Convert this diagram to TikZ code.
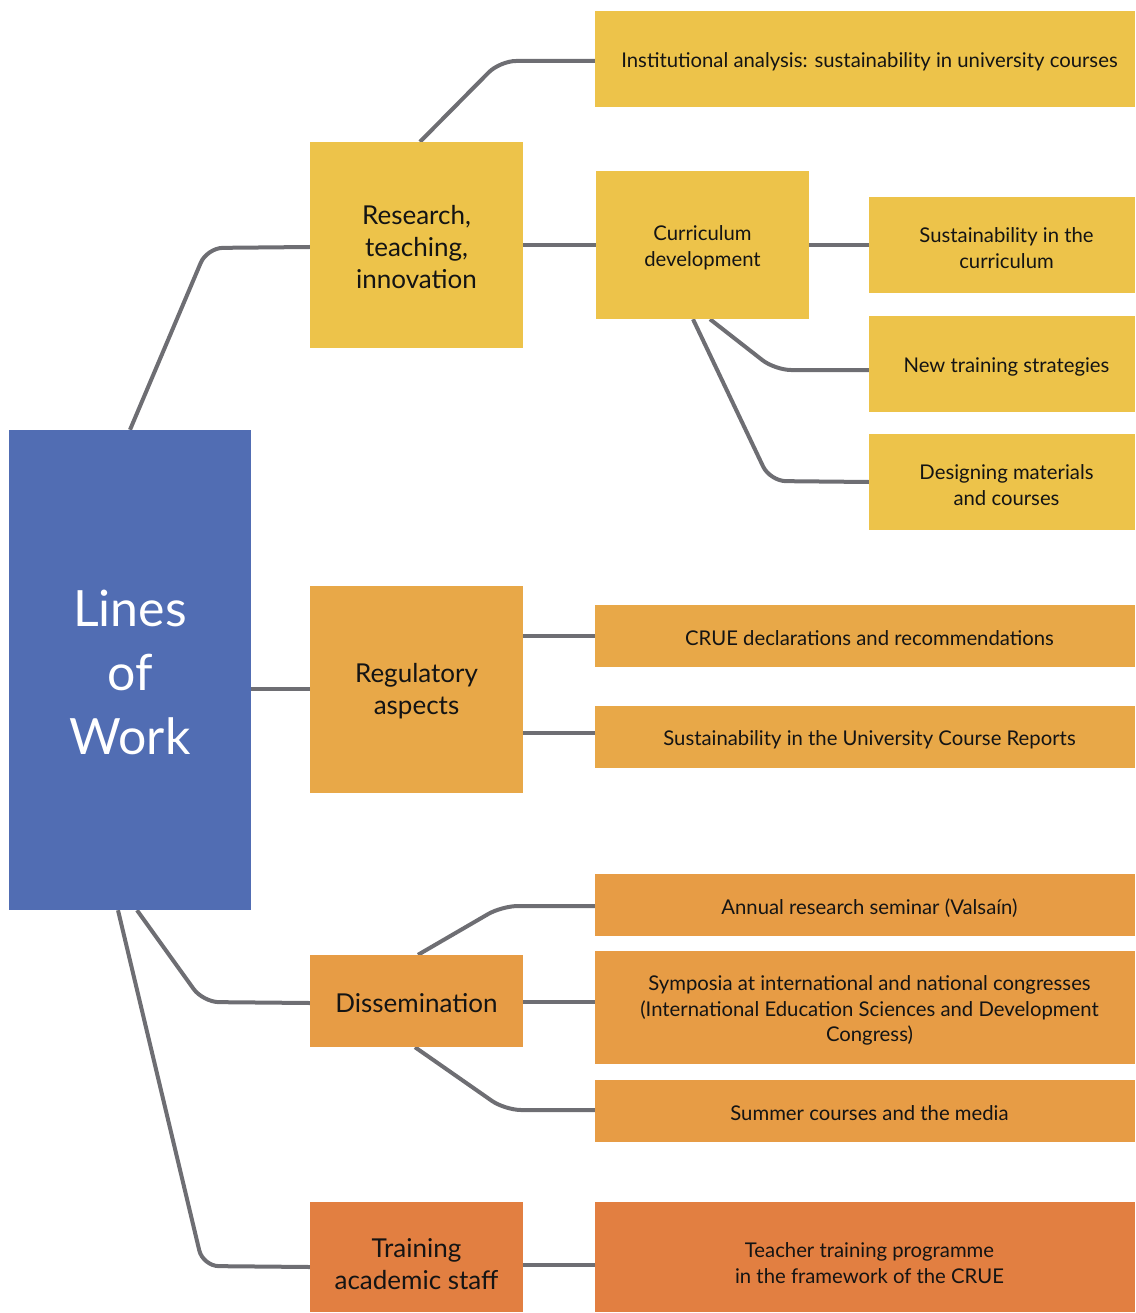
\documentclass[tikz,border=0pt]{standalone}
\usepackage{fontspec}
\setmainfont{Lato}
\usetikzlibrary{backgrounds}
\definecolor{cblue}{HTML}{516DB3}
\definecolor{cyel}{HTML}{EDC34A}
\definecolor{cora}{HTML}{E8A848}
\definecolor{cdis}{HTML}{E79C45}
\definecolor{ctra}{HTML}{E27F41}
\definecolor{cline}{HTML}{6E6E73}
\tikzset{
  box/.style={draw=none, inner sep=0pt},
  midtxt/.style={align=center, inner sep=0pt, text=black!92, font=\fontsize{26}{32}\selectfont, yshift=-2pt},
  leaftxt/.style={align=center, inner sep=0pt, text=black!92, font=\fontsize{20.3}{25.5}\selectfont, yshift=-3pt},
  edgetxt/.style={leaftxt, xshift=4.5pt},
  conn/.style={draw=cline, line width=4pt, rounded corners=16pt},
}
\begin{document}
\begin{tikzpicture}[x=1pt,y=-1pt]
\useasboundingbox (0,0) rectangle (1135,1313);
% root
\node[box, fill=cblue, minimum width=242pt, minimum height=480pt,
      label={[align=center, inner sep=0pt, text=white, font=\fontsize{50}{64}\selectfont, yshift=-2.5pt]center:{Lines\\of\\Work}}] (root) at (130,670) {};
% research branch
\node[box, fill=cyel, minimum width=213pt, minimum height=206pt,
      label={[midtxt]center:{Research,\\teaching,\\innovation}}] (res) at (416.5,245) {};
\node[box, fill=cyel, minimum width=540pt, minimum height=96pt,
      label={[edgetxt]center:{Institutional analysis: sustainability in university courses}}] (inst) at (865,59) {};
\node[box, fill=cyel, minimum width=213pt, minimum height=148pt,
      label={[leaftxt]center:{Curriculum\\development}}] (cur) at (702.5,245) {};
\node[box, fill=cyel, minimum width=266pt, minimum height=96pt,
      label={[edgetxt]center:{Sustainability in the\\curriculum}}] (sus) at (1002,245) {};
\node[box, fill=cyel, minimum width=266pt, minimum height=96pt,
      label={[edgetxt]center:{New training strategies}}] (new) at (1002,364) {};
\node[box, fill=cyel, minimum width=266pt, minimum height=96pt,
      label={[edgetxt]center:{Designing materials\\and courses}}] (des) at (1002,482) {};
% regulatory branch
\node[box, fill=cora, minimum width=213pt, minimum height=207pt,
      label={[midtxt]center:{Regulatory\\aspects}}] (reg) at (416.5,689.5) {};
\node[box, fill=cora, minimum width=540pt, minimum height=62pt,
      label={[edgetxt, yshift=1pt]center:{CRUE declarations and recommendations}}] (crue) at (865,636) {};
\node[box, fill=cora, minimum width=540pt, minimum height=62pt,
      label={[edgetxt]center:{Sustainability in the University Course Reports}}] (ucr) at (865,737) {};
% dissemination branch
\node[box, fill=cdis, minimum width=213pt, minimum height=92pt,
      label={[midtxt]center:{Dissemination}}] (dis) at (416.5,1001) {};
\node[box, fill=cdis, minimum width=540pt, minimum height=62pt,
      label={[edgetxt]center:{Annual research seminar (Valsaín)}}] (ann) at (865,905) {};
\node[box, fill=cdis, minimum width=540pt, minimum height=113pt,
      label={[edgetxt]center:{Symposia at international and national congresses\\(International Education Sciences and Development\\Congress)}}] (sym) at (865,1007.5) {};
\node[box, fill=cdis, minimum width=540pt, minimum height=62pt,
      label={[edgetxt, yshift=1pt]center:{Summer courses and the media}}] (sum) at (865,1111) {};
% training branch
\node[box, fill=ctra, minimum width=213pt, minimum height=110pt,
      label={[midtxt, yshift=-5pt]center:{Training\\academic staff}}] (tra) at (416.5,1257) {};
\node[box, fill=ctra, minimum width=540pt, minimum height=110pt,
      label={[edgetxt, yshift=-3pt]center:{Teacher training programme\\in the framework of the CRUE}}] (tea) at (865,1257) {};
% connectors
\begin{scope}[on background layer]
\draw[conn] (root.north) -- (207,248) -- (res.west |- 0,247);
\draw[conn] (root.east |- 0,689) -- (reg.west |- 0,689);
\draw[conn] (root.south -| 137,0) -- (203,1002) -- (dis.west |- 0,1003);
\draw[conn] (root.south -| 118,0) -- (203,1266) -- (tra.west |- 0,1267);
\draw[conn] (res.north -| 420,0) -- (500,61) -- (inst.west |- 0,61);
\draw[conn] (res.east |- 0,245) -- (cur.west |- 0,245);
\draw[conn] (cur.east |- 0,245) -- (sus.west |- 0,245);
\draw[conn] (cur.south -| 710,0) -- (775,370) -- (new.west |- 0,370);
\draw[conn] (cur.south -| 693,0) -- (770,481) -- (des.west |- 0,482);
\draw[conn] (reg.east |- 0,636) -- (crue.west |- 0,636);
\draw[conn] (reg.east |- 0,733) -- (ucr.west |- 0,733);
\draw[conn] (dis.north -| 418,0) -- (502,906) -- (ann.west |- 0,906);
\draw[conn] (dis.east |- 0,1002) -- (sym.west |- 0,1002);
\draw[conn] (dis.south -| 415,0) -- (505,1110) -- (sum.west |- 0,1110);
\draw[conn] (tra.east |- 0,1265) -- (tea.west |- 0,1265);
\end{scope}
\end{tikzpicture}
\end{document}
